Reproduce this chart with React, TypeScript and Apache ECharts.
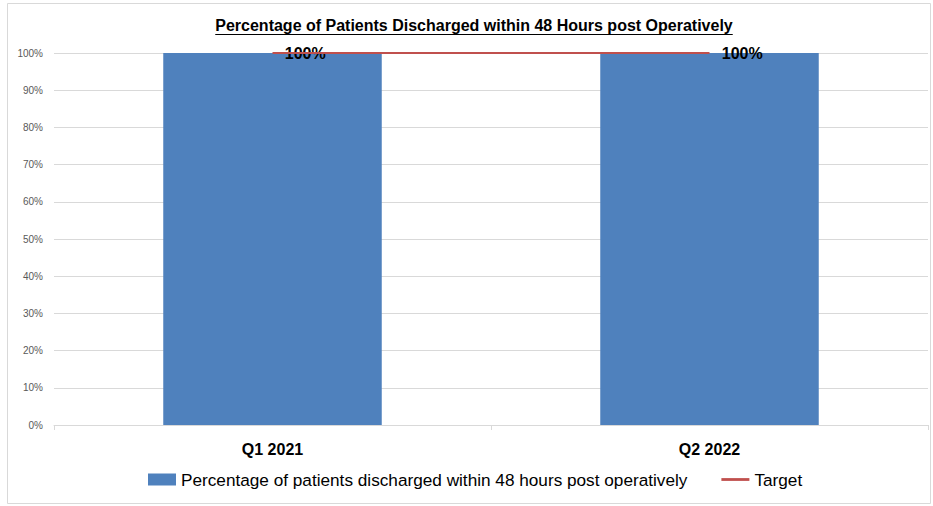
import React, { useEffect, useRef } from "react";
import * as echarts from "echarts";

const categories = ["Q1 2021", "Q2 2022"];
const dischargedPct = [100, 100];
const targetPct = [100, 100];
const yTicks = [0, 10, 20, 30, 40, 50, 60, 70, 80, 90, 100];

const TITLE = "Percentage of Patients Discharged within 48 Hours post Operatively";
const BAR_NAME = "Percentage of patients discharged within 48 hours post operatively";
const FONT = "'Liberation Sans', Arial, sans-serif";

export default function App() {
  const ref = useRef<HTMLDivElement>(null);
  useEffect(() => {
    if (!ref.current) return;
    const chart = echarts.init(ref.current, undefined, { renderer: "svg" });
    const cv = document.createElement("canvas").getContext("2d")!;
    cv.font = `bold 16px ${FONT}`;
    const tw = cv.measureText(TITLE).width;
    const cx = 474;
    chart.setOption({
      animation: false,
      textStyle: { fontFamily: FONT },
      graphic: [
        {
          type: "rect",
          shape: { x: 7.5, y: 3.5, width: 923, height: 500 },
          style: { fill: "none", stroke: "#d9d9d9", lineWidth: 1 },
          silent: true,
        },
        {
          type: "text",
          x: cx,
          y: 25,
          style: {
            text: TITLE,
            fontFamily: FONT,
            fontWeight: "bold",
            fontSize: 16,
            fill: "#000",
            align: "center",
            verticalAlign: "middle",
          },
        },
        {
          type: "line",
          shape: { x1: cx - tw / 2, y1: 34.5, x2: cx + tw / 2, y2: 34.5 },
          style: { stroke: "#000", lineWidth: 1 },
        },
      ],
      grid: { left: 54, right: 5, top: 53, bottom: 81, containLabel: false },
      legend: {
        bottom: 13,
        left: 143,
        itemWidth: 28,
        itemHeight: 12,
        itemGap: 34,
        textStyle: { fontSize: 17.2, color: "#000", fontFamily: FONT },
        data: [
          { name: BAR_NAME, icon: "rect" },
          { name: "Target", icon: "path://M0,0 L10,0 L10,1 L0,1 Z", itemStyle: { color: "#c0504d" } },
        ],
      },
      xAxis: {
        type: "category",
        data: categories,
        axisLine: { lineStyle: { color: "#d9d9d9" } },
        axisTick: { show: true, length: 5, lineStyle: { color: "#d9d9d9" } },
        axisLabel: { fontSize: 16, fontWeight: "bold", color: "#000", margin: 16 },
      },
      yAxis: {
        type: "value",
        min: yTicks[0],
        max: yTicks[yTicks.length - 1],
        interval: 10,
        axisLine: { show: false },
        axisTick: { show: false },
        splitLine: { lineStyle: { color: "#d9d9d9" } },
        axisLabel: { fontSize: 10, color: "#595959", margin: 11, formatter: "{value}%" },
      },
      series: [
        {
          name: BAR_NAME,
          type: "bar",
          data: dischargedPct,
          barWidth: "50%",
          itemStyle: { color: "#4f81bd" },
          label: {
            show: true,
            position: ["65%", 0],
            align: "center",
            verticalAlign: "middle",
            formatter: "{c}%",
            fontSize: 16,
            fontWeight: "bold",
            color: "#000",
          },
          z: 2,
        },
        {
          name: "Target",
          type: "line",
          data: targetPct,
          symbol: "none",
          lineStyle: { color: "#c0504d", width: 2 },
          itemStyle: { color: "#c0504d" },
          z: 3,
        },
      ],
    });
    return () => chart.dispose();
  }, []);
  return (
    <div
      ref={ref}
      style={{ position: "absolute", left: 0, top: 0, width: 933, height: 506, background: "#fff" }}
    />
  );
}
